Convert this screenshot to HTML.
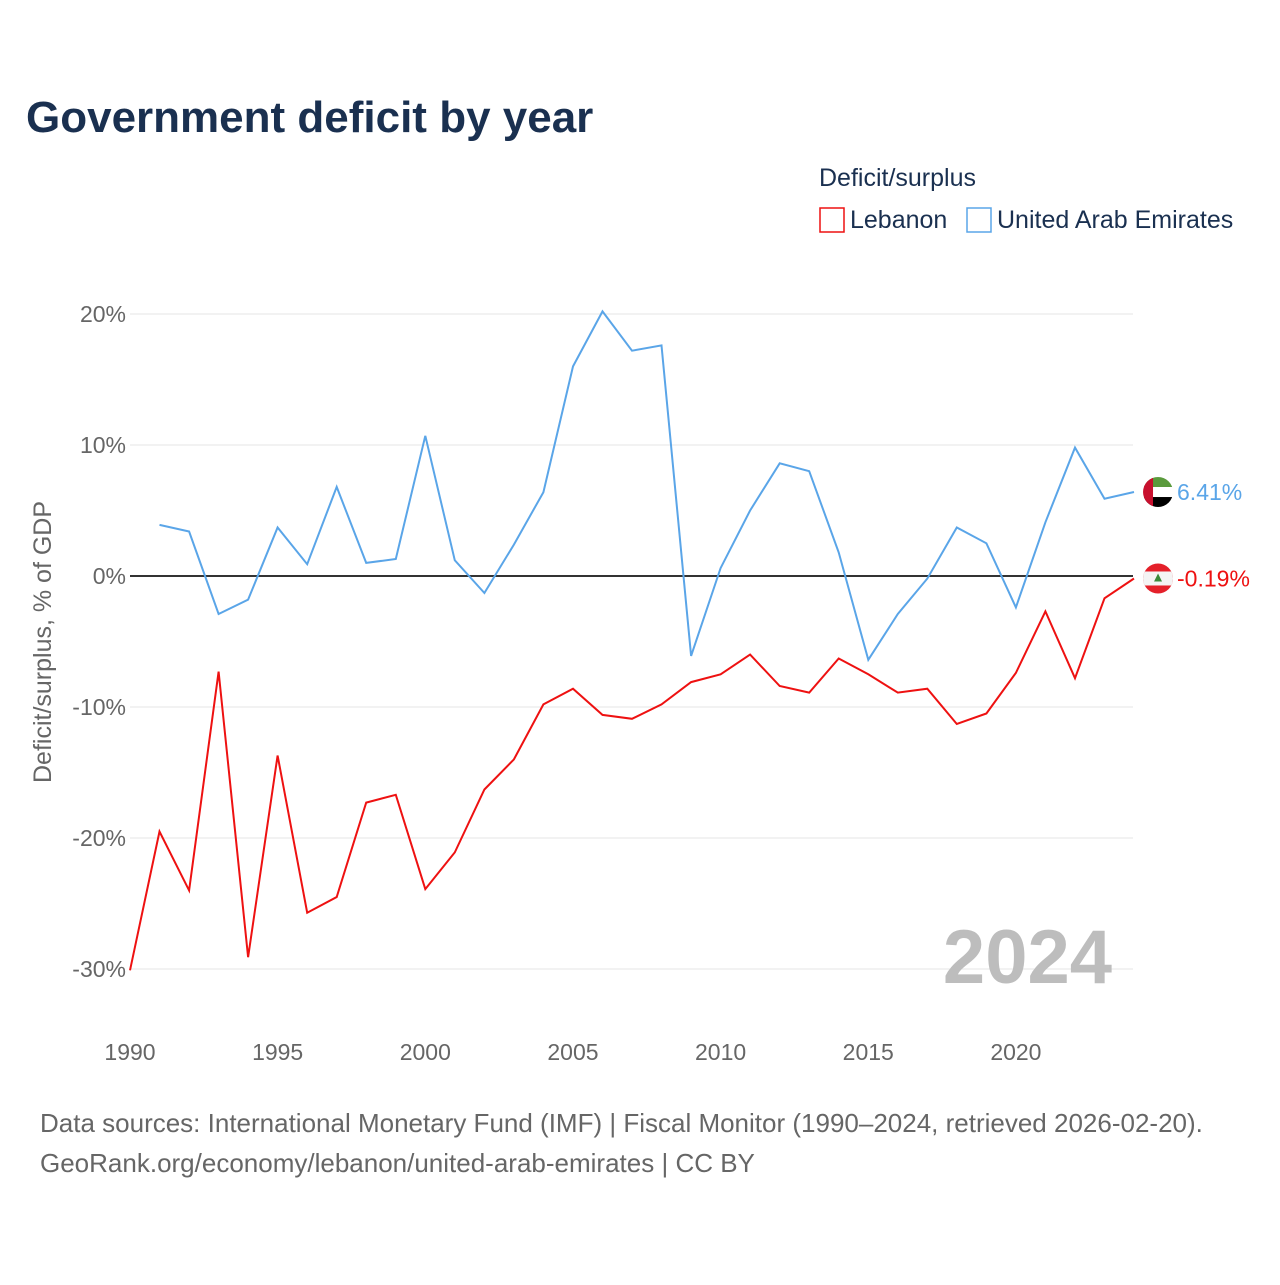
<!DOCTYPE html>
<html><head><meta charset="utf-8">
<style>
body{margin:0;background:#fff;font-family:"Liberation Sans",sans-serif;}
#wrap{position:relative;width:1280px;height:1280px;}
</style></head>
<body>
<div id="wrap">
<svg id="chart" width="1280" height="1280">
<text x="26" y="132" font-size="44" font-weight="bold" fill="#1a3050">Government deficit by year</text>
<text x="819" y="186" font-size="25" fill="#1a3050">Deficit/surplus</text>
<g>
<rect x="820" y="208" width="24" height="24" fill="none" stroke="#ee1111" stroke-width="1.5"/>
<text x="850" y="228" font-size="25" fill="#1a3050">Lebanon</text></g>
<g>
<rect x="967" y="208" width="24" height="24" fill="none" stroke="#5aa5e8" stroke-width="1.5"/>
<text x="997" y="228" font-size="25" fill="#1a3050">United Arab Emirates</text></g>
<g id="grid"></g><g id="series"></g>
<text transform="translate(51,642) rotate(-90)" text-anchor="middle" font-size="25" fill="#666">Deficit/surplus, % of GDP</text>
<text x="1112" y="983" text-anchor="end" font-size="76" font-weight="bold" fill="#bdbdbd">2024</text>
<text x="40" y="1132" font-size="26" fill="#666">Data sources: International Monetary Fund (IMF) | Fiscal Monitor (1990–2024, retrieved 2026-02-20).</text>
<text x="40" y="1172" font-size="26" fill="#666">GeoRank.org/economy/lebanon/united-arab-emirates | CC BY</text>
</svg>
</div>
<script>
const years=[1990,1991,1992,1993,1994,1995,1996,1997,1998,1999,2000,2001,2002,2003,2004,2005,2006,2007,2008,2009,2010,2011,2012,2013,2014,2015,2016,2017,2018,2019,2020,2021,2022,2023,2024];
const lebanon=[-30.1,-19.5,-24.0,-7.3,-29.1,-13.7,-25.7,-24.5,-17.3,-16.7,-23.9,-21.1,-16.3,-14.0,-9.8,-8.6,-10.6,-10.9,-9.8,-8.1,-7.5,-6.0,-8.4,-8.9,-6.3,-7.5,-8.9,-8.6,-11.3,-10.5,-7.4,-2.7,-7.8,-1.7,-0.19];
const uae=[null,3.9,3.4,-2.9,-1.8,3.7,0.9,6.8,1.0,1.3,10.7,1.2,-1.3,2.4,6.4,16.0,20.2,17.2,17.6,-6.1,0.6,5.0,8.6,8.0,1.8,-6.4,-2.9,-0.2,3.7,2.5,-2.4,4.1,9.8,5.9,6.41];
const yTicks=[20,10,0,-10,-20,-30];
const xTicks=[1990,1995,2000,2005,2010,2015,2020];
const X=y=>130+(y-1990)*29.53;
const Y=v=>576-v*13.1;
const NS="http://www.w3.org/2000/svg";
const grid=document.getElementById('grid'),ser=document.getElementById('series');
function mk(tag,attrs,parent){const e=document.createElementNS(NS,tag);for(const k in attrs)e.setAttribute(k,attrs[k]);parent.appendChild(e);return e;}
yTicks.forEach(t=>{
 const l=mk('line',{x1:130,x2:1133,y1:Y(t),y2:Y(t),stroke:t===0?'#333':'#e6e6e6','stroke-width':t===0?2:1},grid);
 
 
 const tx=mk('text',{x:126,y:Y(t)+8,'text-anchor':'end','font-size':23,fill:'#666'},grid);
 tx.textContent=t+'%';
 
 
});
xTicks.forEach(t=>{
 const tx=mk('text',{x:X(t),y:1060,'text-anchor':'middle','font-size':23,fill:'#666'},grid);
 tx.textContent=t;
 
 
});
function line(vals,color,name){
 let d='';vals.forEach((v,i)=>{if(v===null)return;d+=(d?'L':'M')+X(years[i]).toFixed(1)+','+Y(v).toFixed(1);});
 const p=mk('path',{d:d,fill:'none',stroke:color,'stroke-width':2},ser);
 
 
}
line(uae,'#5aa5e8','series-line-uae');
line(lebanon,'#ee1111','series-line-lebanon');
function endLabel(v,color,name,flag){
 const x=X(2024)+24,y=Y(v);
 const g=mk('g',{},ser);
 
 
 if(flag==='uae'){
  mk('clipPath',{id:'cu'},g).appendChild(document.createElementNS(NS,'circle'));
  const c=g.querySelector('circle');c.setAttribute('cx',x);c.setAttribute('cy',y);c.setAttribute('r',15);
  mk('rect',{x:x-15,y:y-15,width:30,height:10,fill:'#5a9a3c','clip-path':'url(#cu)'},g);
  mk('rect',{x:x-15,y:y-5,width:30,height:10,fill:'#fff','clip-path':'url(#cu)'},g);
  mk('rect',{x:x-15,y:y+5,width:30,height:10,fill:'#000','clip-path':'url(#cu)'},g);
  mk('rect',{x:x-15,y:y-15,width:10,height:30,fill:'#c8102e','clip-path':'url(#cu)'},g);
 }else{
  mk('clipPath',{id:'cl'},g).appendChild(document.createElementNS(NS,'circle'));
  const c=g.querySelectorAll('circle')[0];c.setAttribute('cx',x);c.setAttribute('cy',y);c.setAttribute('r',15);
  mk('rect',{x:x-15,y:y-15,width:30,height:30,fill:'#e4202a','clip-path':'url(#cl)'},g);
  mk('rect',{x:x-15,y:y-7,width:30,height:14,fill:'#f4f4f4','clip-path':'url(#cl)'},g);
  mk('polygon',{points:`${x},${y-5} ${x-4},${y+3} ${x+4},${y+3}`,fill:'#3a8a3a'},g);
 }
 const t=mk('text',{x:x+19,y:y+8,'font-size':23,fill:color},g);
 t.textContent=v.toFixed(2)+'%';
}
endLabel(uae[uae.length-1],'#5aa5e8','end-label-uae','uae');
endLabel(lebanon[lebanon.length-1],'#ee1111','end-label-lebanon','leb');
</script>
</body></html>
